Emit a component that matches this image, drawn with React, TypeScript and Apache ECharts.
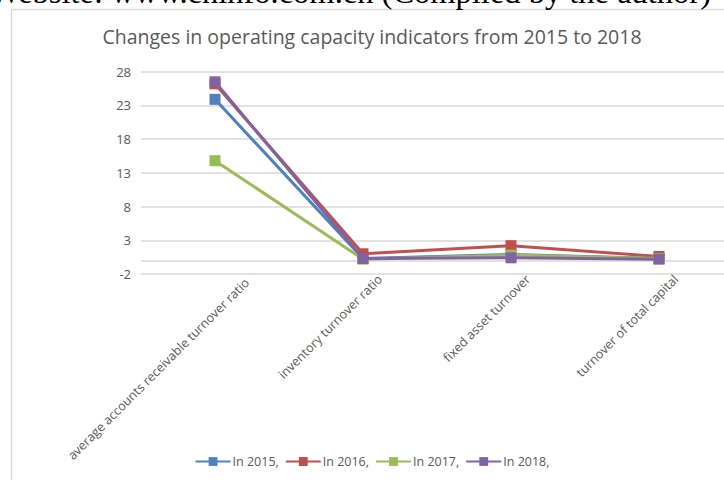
import React, { useEffect, useRef } from "react";
import * as echarts from "echarts";

const categories = [
  "average accounts receivable turnover ratio",
  "inventory turnover ratio",
  "fixed asset turnover",
  "turnover of total capital",
];
const seriesNames = ["In 2015,", "In 2016,", "In 2017,", "In 2018,"];
const values2015 = [23.9, 0.3, 0.9, 0.3];
const values2016 = [26.2, 1.0, 2.2, 0.6];
const values2017 = [14.8, 0.2, 0.8, 0.3];
const values2018 = [26.5, 0.3, 0.4, 0.2];
const seriesColors = ["#4F81BD", "#C0504D", "#9BBB59", "#8064A2"];
const yMin = -2;
const yMax = 28;
const yInterval = 5;
const titleText = "Changes in operating capacity indicators from 2015 to 2018";
const captionText = "Website: www.cninfo.com.cn (Compiled by the author)";

const FONT = "'Open Sans', 'Noto Sans', sans-serif";
const TEXT_COLOR = "#595959";
const GRID_COLOR = "#D9D9D9";

export default function App() {
  const ref = useRef<HTMLDivElement>(null);
  useEffect(() => {
    if (!ref.current) return;
    const chart = echarts.init(ref.current, undefined, { renderer: "svg" });
    const allValues = [values2015, values2016, values2017, values2018];
    const series: any[] = allValues.map((vals, i) => ({
      name: seriesNames[i],
      type: "line",
      data: vals,
      symbol: "rect",
      symbolSize: 11,
      color: seriesColors[i],
      lineStyle: { width: 3, color: seriesColors[i] },
      itemStyle: { color: seriesColors[i] },
      z: 3 + i,
    }));
    series.unshift({
      name: "zero",
      type: "line",
      data: [],
      z: 1,
      silent: true,
      markLine: {
        silent: true,
        symbol: "none",
        label: { show: false },
        lineStyle: { color: GRID_COLOR, width: 1.5, type: "solid" },
        data: [{ yAxis: 0 }],
      },
    });
    chart.setOption({
      animation: false,
      textStyle: { fontFamily: FONT },
      title: {
        text: titleText,
        left: "center",
        top: 21,
        textStyle: {
          fontFamily: FONT,
          fontSize: 19.5,
          fontWeight: "normal",
          color: TEXT_COLOR,
        },
      },
      legend: {
        data: seriesNames,
        bottom: 7,
        left: "center",
        itemWidth: 35,
        itemHeight: 11,
        itemGap: 6,
        textStyle: { fontFamily: FONT, fontSize: 12.5, color: TEXT_COLOR, padding: [0, 0, 0, -3] },
      },
      grid: {
        left: 141,
        top: 71.7,
        width: 592,
        height: 202.3,
        containLabel: false,
      },
      xAxis: {
        type: "category",
        data: categories,
        boundaryGap: true,
        axisLine: { show: false, onZero: false },
        axisTick: { show: false },
        axisLabel: {
          rotate: 45,
          interval: 0,
          margin: 20,
          padding: [0, -24, 0, 0],
          fontFamily: FONT,
          fontSize: 12.6,
          color: TEXT_COLOR,
          formatter: (v: string, idx: number) => (idx === 0 ? "{first|" + v + "}" : v),
          rich: {
            first: {
              fontFamily: FONT,
              fontSize: 12.6,
              color: TEXT_COLOR,
              padding: [26, -8, 0, 0],
            },
          },
        },
      },
      yAxis: {
        type: "value",
        min: yMin,
        max: yMax,
        interval: yInterval,
        axisLine: { show: false },
        axisTick: { show: false },
        splitLine: { lineStyle: { color: GRID_COLOR, width: 1.5 } },
        axisLabel: {
          margin: 10,
          fontFamily: FONT,
          fontSize: 13,
          color: TEXT_COLOR,
        },
      },
      graphic: [
        {
          type: "rect",
          shape: { x: 11.5, y: 9.5, width: 760, height: 500 },
          style: { fill: "none", stroke: GRID_COLOR, lineWidth: 1.5 },
          z: 0,
          silent: true,
        },
        {
          type: "text",
          x: 711,
          y: 8.5,
          style: {
            text: captionText,
            font: "32.5px 'Liberation Serif', 'DejaVu Serif', serif",
            fill: "#000",
            textAlign: "right",
            textVerticalAlign: "bottom",
          },
          silent: true,
        },
      ],
      series,
    });
    return () => chart.dispose();
  }, []);
  return (
    <div
      style={{
        position: "fixed",
        left: 0,
        top: 0,
        width: 724,
        height: 480,
        overflow: "hidden",
        background: "#fff",
      }}
    >
      <div ref={ref} style={{ width: 744, height: 480 }} />
    </div>
  );
}
